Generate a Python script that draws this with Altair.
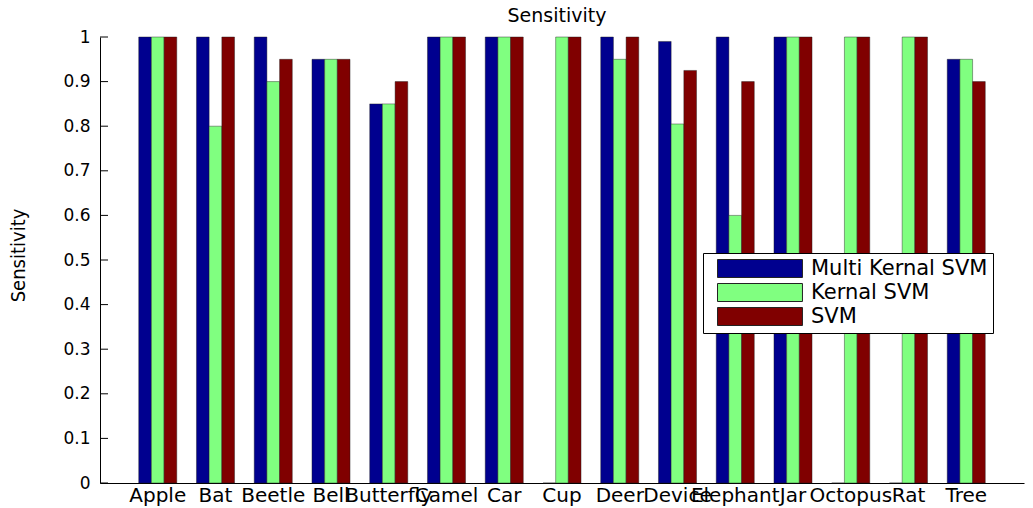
import altair as alt
import pandas as pd

# Objects classified, one group of bars per object
categories = ["Apple", "Bat", "Beetle", "Bell", "Butterfly", "Camel", "Car", "Cup",
              "Deer", "Device", "Elephant", "Jar", "Octopus", "Rat", "Tree"]
methods = ["Multi Kernal SVM", "Kernal SVM", "SVM"]

# Sensitivity per object for each classifier
multi_kernal_svm = [1.0, 1.0, 1.0, 0.95, 0.85, 1.0, 1.0, 0.0, 1.0, 0.99, 1.0, 1.0, 0.0, 0.0, 0.95]
kernal_svm = [1.0, 0.80, 0.90, 0.95, 0.85, 1.0, 1.0, 1.0, 0.95, 0.805, 0.60, 1.0, 1.0, 1.0, 0.95]
svm = [1.0, 1.0, 0.95, 0.95, 0.90, 1.0, 1.0, 1.0, 1.0, 0.925, 0.90, 1.0, 1.0, 1.0, 0.90]

colors = ["#00008f", "#80ff80", "#800000"]
y_ticks = [0, 0.1, 0.2, 0.3, 0.4, 0.5, 0.6, 0.7, 0.8, 0.9, 1]

rows = []
for name, series in zip(methods, [multi_kernal_svm, kernal_svm, svm]):
    for cat, v in zip(categories, series):
        rows.append({"Category": cat, "Method": name, "Value": v})
df = pd.DataFrame(rows)
tick_df = pd.DataFrame({"Value": y_ticks})

FONT = "DejaVu Sans"

# Wide legend swatch: unit height, left edge at the symbol origin, stretched to the right
legend = alt.Legend(
    title=None,
    orient="none",
    legendX=603,
    legendY=216,
    direction="vertical",
    symbolType="M-1,-1L8.44,-1L8.44,1L-1,1Z",
    symbolSize=324,
    symbolStrokeColor="#222222",
    symbolStrokeWidth=1,
    symbolOpacity=1,
    symbolOffset=8,
    labelOffset=74,
    labelFont=FONT,
    labelFontSize=21,
    labelColor="black",
    labelLimit=400,
    padding=5,
    rowPadding=1,
    strokeColor="black",
    fillColor="white",
)

y_axis = alt.Axis(
    values=y_ticks, format=".1~f", ticks=False, grid=False,
    labelFont=FONT, labelFontSize=17, labelColor="black", labelPadding=10,
    domainColor="black", domainWidth=1,
    title="Sensitivity", titleFont="DejaVu Sans Condensed", titleFontSize=20,
    titleFontWeight="normal", titleColor="black", titleAngle=-90,
    titleX=-82, titleY=218, titleAlign="center", titleBaseline="middle",
)
y_scale = alt.Scale(domain=[0, 1], nice=False)

bars = alt.Chart(df).mark_bar(stroke="#1a1a1a", strokeWidth=0.6, strokeOpacity=0.7).encode(
    x=alt.X(
        "Category:N",
        sort=categories,
        scale=alt.Scale(paddingInner=0, paddingOuter=0.5),
        axis=alt.Axis(
            title=None, labelAngle=0, ticks=False, labelFont=FONT, labelFontSize=20,
            labelColor="black", labelPadding=2, labelOverlap=False, labelBound=False,
            domainColor="black", domainWidth=1, labelLimit=400,
        ),
    ),
    xOffset=alt.XOffset(
        "Method:N", sort=methods, scale=alt.Scale(paddingInner=0, paddingOuter=0.777)
    ),
    y=alt.Y("Value:Q", scale=y_scale, axis=y_axis),
    color=alt.Color(
        "Method:N", sort=methods,
        scale=alt.Scale(domain=methods, range=colors),
        legend=legend,
    ),
)

# inward tick marks on the y axis
ticks = alt.Chart(tick_df).mark_rule(color="black", strokeWidth=1).encode(
    y=alt.Y("Value:Q", scale=y_scale, axis=y_axis),
    x=alt.value(0),
    x2=alt.value(8),
)

chart = alt.layer(bars, ticks).properties(
    width=924,
    height=446,
    title=alt.Title(
        "Sensitivity", font=FONT, fontSize=19, fontWeight="normal", color="black",
        anchor="middle", frame="group", baseline="alphabetic", offset=0, dx=-5, dy=13,
    ),
    autosize=alt.AutoSizeParams(type="none"),
    padding={"left": 100, "top": 37, "right": 9, "bottom": 25},
    background="white",
).configure_view(stroke=None)

chart.save("out.html", embed_options={"renderer": "svg", "actions": False})
